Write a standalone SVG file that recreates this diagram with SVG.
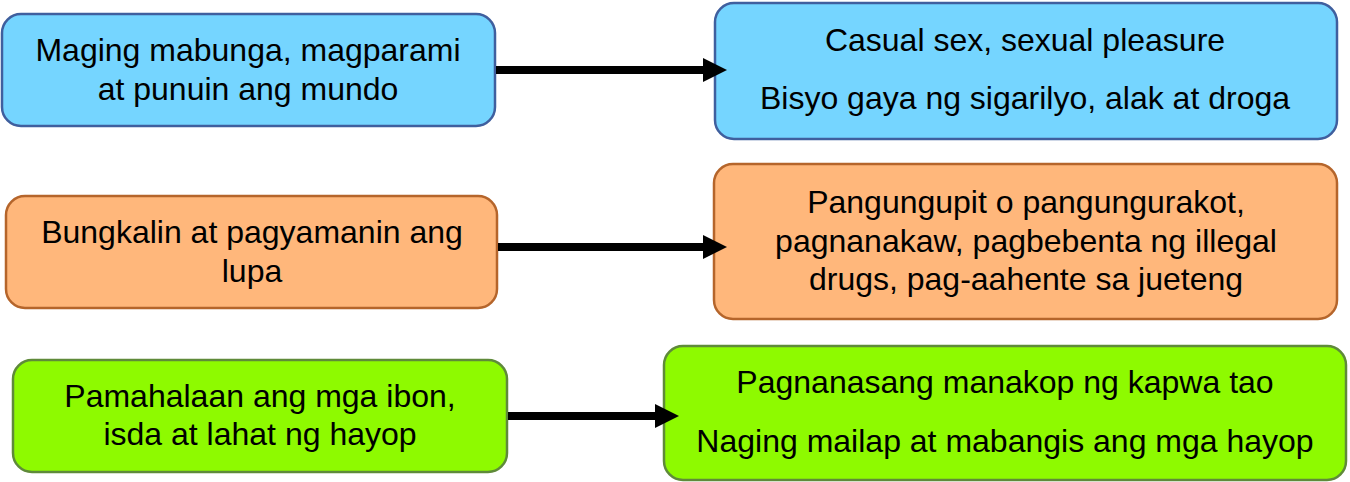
<svg xmlns="http://www.w3.org/2000/svg" width="1350" height="482" viewBox="0 0 1350 482">
  <style>
    .t { font-family: "Liberation Sans", Arial, sans-serif; font-size: 32px; fill: #000; text-anchor: middle; }
    .blue { fill: #75D5FF; stroke: #3F5F9E; stroke-width: 2.5; }
    .orange { fill: #FFB77B; stroke: #B5652B; stroke-width: 2.5; }
    .green { fill: #8EFA00; stroke: #5F8A3A; stroke-width: 2.5; }
    .conn { stroke: #000; stroke-width: 8; fill: none; marker-end: url(#ah); }
  </style>
  <defs>
    <marker id="ah" markerUnits="userSpaceOnUse" markerWidth="24" markerHeight="24" refX="0" refY="12" orient="auto">
      <path d="M0,0 L24,12 L0,24 z" fill="#000"/>
    </marker>
  </defs>
  <rect width="1350" height="482" fill="#fff"/>

  <g id="node1">
    <rect class="blue" x="2" y="14" width="493" height="112" rx="19"/>
    <text class="t" x="248" y="61">Maging mabunga, magparami</text>
    <text class="t" x="248" y="100">at punuin ang mundo</text>
  </g>
  <g id="node2">
    <rect class="blue" x="715" y="3" width="622" height="136" rx="19"/>
    <text class="t" x="1025" y="51">Casual sex, sexual pleasure</text>
    <text class="t" x="1025" y="109">Bisyo gaya ng sigarilyo, alak at droga</text>
  </g>
  <g id="node3">
    <rect class="orange" x="6" y="196" width="491" height="112" rx="19"/>
    <text class="t" x="252" y="243">Bungkalin at pagyamanin ang</text>
    <text class="t" x="252" y="282">lupa</text>
  </g>
  <g id="node4">
    <rect class="orange" x="714" y="164" width="623" height="155" rx="19"/>
    <text class="t" x="1026" y="213">Pangungupit o pangungurakot,</text>
    <text class="t" x="1026" y="252">pagnanakaw, pagbebenta ng illegal</text>
    <text class="t" x="1026" y="290">drugs, pag-aahente sa jueteng</text>
  </g>
  <g id="node5">
    <rect class="green" x="13" y="360" width="494" height="112" rx="19"/>
    <text class="t" x="260" y="407">Pamahalaan ang mga ibon,</text>
    <text class="t" x="260" y="445">isda at lahat ng hayop</text>
  </g>
  <g id="node6">
    <rect class="green" x="664" y="346" width="682" height="134" rx="19"/>
    <text class="t" x="1005" y="393">Pagnanasang manakop ng kapwa tao</text>
    <text class="t" x="1005" y="452">Naging mailap at mabangis ang mga hayop</text>
  </g>

  <g id="connectors">
    <line class="conn" x1="496" y1="70" x2="703" y2="70"/>
    <line class="conn" x1="498" y1="247" x2="703" y2="247"/>
    <line class="conn" x1="508" y1="416" x2="655" y2="416"/>
  </g>
</svg>
